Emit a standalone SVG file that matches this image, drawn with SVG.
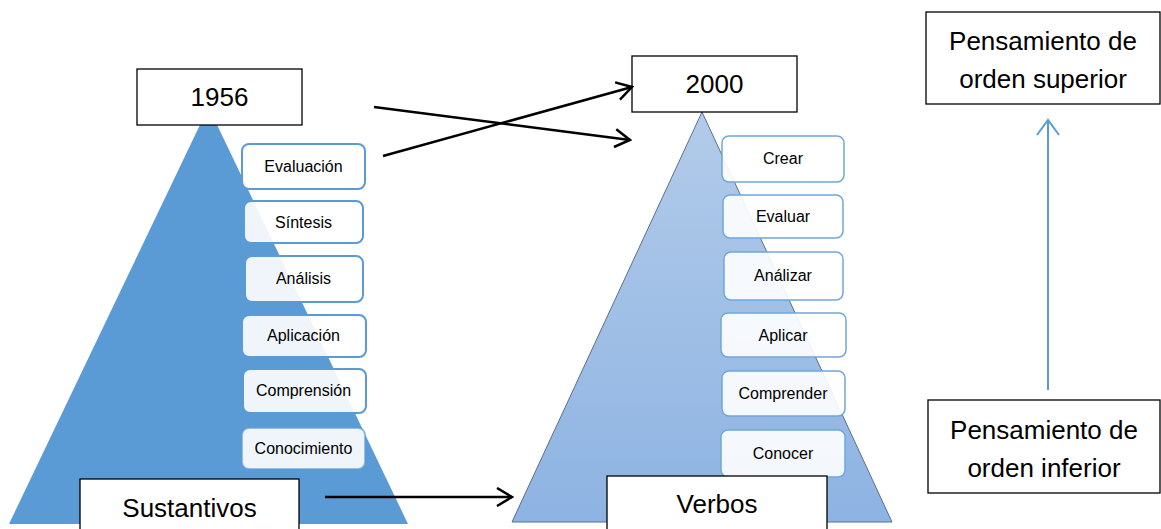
<svg xmlns="http://www.w3.org/2000/svg" width="1161" height="529" viewBox="0 0 1161 529">
<style>
text{font-family:"Liberation Sans",Arial,sans-serif;fill:#000;text-anchor:middle}
.big{font-size:26px}
.sm{font-size:16px}
.box{fill:#fff;stroke:#000;stroke-width:1.3}
.lvl{fill:#fff;fill-opacity:0.9;stroke:#5B9BD5;stroke-width:2}
.lvl2{fill:#fff;fill-opacity:0.9;stroke:#6FA7DC;stroke-width:1.5}
.conn{fill:none;stroke:#000;stroke-width:2.5}
</style>
<defs>
<linearGradient id="g2" x1="0" y1="0" x2="0" y2="1">
<stop offset="0" stop-color="#B2CBE9"/>
<stop offset="1" stop-color="#8DB3E2"/>
</linearGradient>
<marker id="ah" markerUnits="userSpaceOnUse" viewBox="0 0 18 20" refX="16" refY="10" markerWidth="18" markerHeight="20" orient="auto">
<path d="M1,1 L16,10 L1,19" fill="none" stroke="#000" stroke-width="2.5"/>
</marker>
<marker id="ahb" markerUnits="userSpaceOnUse" viewBox="0 0 18 24" refX="16" refY="12" markerWidth="18" markerHeight="24" orient="auto">
<path d="M1,1 L16,12 L1,23" fill="none" stroke="#5B9BD5" stroke-width="2"/>
</marker>
</defs>

<g id="pyramid1956">
<polygon points="208.5,107 9,524 408,524" fill="#5B9BD5"/>
</g>
<g id="pyramid2000">
<polygon points="702,112 512,522 892,522" fill="url(#g2)" stroke="#5a6f8c" stroke-width="1"/>
</g>

<g id="n1956"><rect class="box" x="137" y="69" width="165" height="56"/><text class="big" x="219.5" y="106">1956</text></g>
<g id="n2000"><rect class="box" x="632" y="56" width="165" height="56"/><text class="big" x="714.5" y="93">2000</text></g>

<g id="evaluacion"><rect class="lvl" x="242" y="144" width="123" height="45" rx="7"/><text class="sm" x="303.5" y="172">Evaluación</text></g>
<g id="sintesis"><rect class="lvl" x="244" y="201" width="119" height="42" rx="7"/><text class="sm" x="303.5" y="228">Síntesis</text></g>
<g id="analisis"><rect class="lvl" x="245" y="256" width="118" height="46" rx="7"/><text class="sm" x="303.5" y="284">Análisis</text></g>
<g id="aplicacion"><rect class="lvl" x="242" y="315" width="124" height="42" rx="7"/><text class="sm" x="303.5" y="341">Aplicación</text></g>
<g id="comprension"><rect class="lvl" x="243" y="369" width="123" height="44" rx="7"/><text class="sm" x="303.5" y="396">Comprensión</text></g>
<g id="conocimiento"><rect class="lvl" x="242" y="428" width="123" height="41" rx="7" stroke-opacity="0.6"/><text class="sm" x="303.5" y="454">Conocimiento</text></g>

<g id="crear"><rect class="lvl2" x="722" y="136" width="122" height="46" rx="7"/><text class="sm" x="783" y="164">Crear</text></g>
<g id="evaluar"><rect class="lvl2" x="723" y="195" width="120" height="43" rx="7"/><text class="sm" x="783" y="222">Evaluar</text></g>
<g id="analizar"><rect class="lvl2" x="724" y="252" width="119" height="48" rx="7"/><text class="sm" x="783" y="281">Análizar</text></g>
<g id="aplicar"><rect class="lvl2" x="721" y="313" width="125" height="44" rx="7"/><text class="sm" x="783" y="341">Aplicar</text></g>
<g id="comprender"><rect class="lvl2" x="722" y="371" width="123" height="45" rx="7"/><text class="sm" x="783" y="399">Comprender</text></g>
<g id="conocer"><rect class="lvl2" x="721" y="430" width="124" height="47" rx="7"/><text class="sm" x="783" y="459">Conocer</text></g>

<g id="sustantivos"><rect class="box" x="80" y="479" width="219" height="60"/><text class="big" x="189.5" y="517">Sustantivos</text></g>
<g id="verbos"><rect class="box" x="607" y="476" width="220" height="60"/><text class="big" x="717" y="513">Verbos</text></g>

<g id="superior"><rect class="box" x="926" y="12" width="234" height="92"/><text class="big" x="1043" y="50">Pensamiento de</text><text class="big" x="1043" y="88">orden superior</text></g>
<g id="inferior"><rect class="box" x="928" y="400" width="232" height="93"/><text class="big" x="1044" y="439">Pensamiento de</text><text class="big" x="1044" y="477">orden inferior</text></g>

<g id="connectors">
<line class="conn" x1="374" y1="107" x2="630" y2="140" marker-end="url(#ah)"/>
<line class="conn" x1="383" y1="156" x2="632" y2="87" marker-end="url(#ah)"/>
<line class="conn" x1="325" y1="497" x2="512" y2="497" marker-end="url(#ah)"/>
<line x1="1048" y1="390" x2="1048" y2="120" stroke="#5B9BD5" stroke-width="2" marker-end="url(#ahb)"/>
</g>
</svg>
